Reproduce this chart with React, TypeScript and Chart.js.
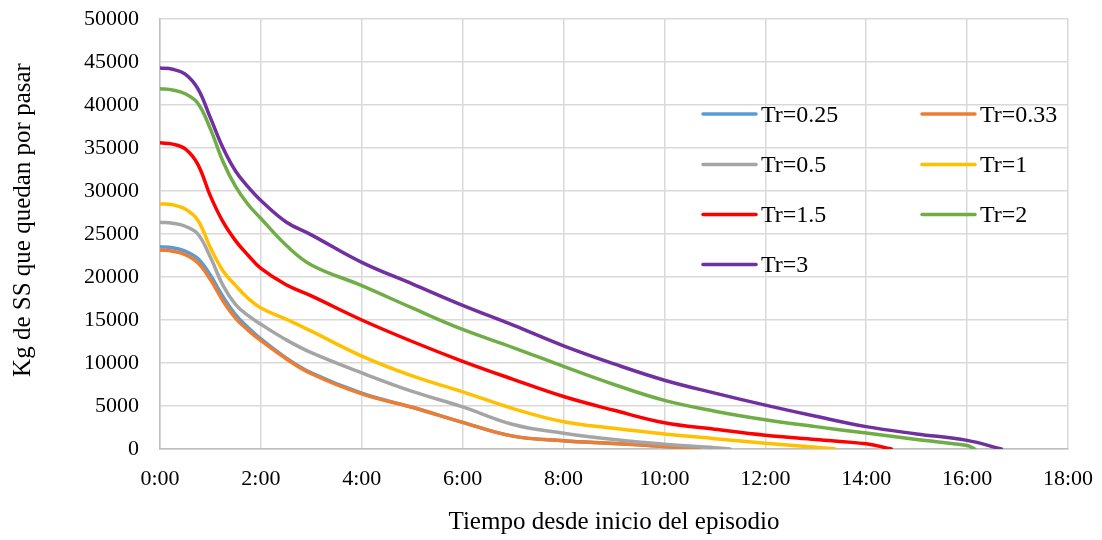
import React, { useEffect, useRef } from "react";
import { Chart, registerables } from "chart.js";

Chart.register(...registerables);

// ---- Data (hours since start of the episode, kg of SS still to pass) ----
const seriesLabels = ["Tr=0.25", "Tr=0.33", "Tr=0.5", "Tr=1", "Tr=1.5", "Tr=2", "Tr=3"];
const seriesColors = ["#5B9BD5", "#ED7D31", "#A5A5A5", "#FFC000", "#FF0000", "#70AD47", "#7030A0"];

const tTr025 = [0, 0.25, 0.5, 0.75, 1.0, 1.25, 1.5, 1.75, 2.0, 2.5, 3.0, 4.0, 5.0, 6.0, 7.0, 8.0, 9.0, 10.0, 10.6];
const kgTr025 = [23520, 23400, 23000, 22150, 20200, 17700, 15600, 14100, 12800, 10600, 8850, 6480, 4850, 3100, 1500, 970, 650, 300, 0];

const tTr033 = [0, 0.25, 0.5, 0.75, 1.0, 1.25, 1.5, 1.75, 2.0, 2.5, 3.0, 4.0, 5.0, 6.0, 7.0, 8.0, 9.0, 10.0, 10.7];
const kgTr033 = [23140, 23000, 22600, 21650, 19700, 17200, 15200, 13800, 12600, 10500, 8750, 6400, 4850, 3100, 1500, 970, 650, 300, 0];

const tTr05 = [0, 0.25, 0.5, 0.75, 1.0, 1.25, 1.5, 1.75, 2.0, 2.5, 3.0, 4.0, 5.0, 6.0, 7.0, 8.0, 9.0, 10.0, 11.0, 11.3];
const kgTr05 = [26360, 26250, 25900, 25000, 22300, 19000, 16800, 15500, 14500, 12700, 11200, 8850, 6700, 4900, 2850, 1830, 1100, 550, 150, 0];

const tTr1 = [0, 0.25, 0.5, 0.75, 1.0, 1.25, 1.5, 1.75, 2.0, 2.5, 3.0, 4.0, 5.0, 6.0, 7.0, 8.0, 9.0, 10.0, 11.0, 12.0, 13.0, 13.38];
const kgTr1 = [28500, 28400, 27900, 26600, 23400, 20700, 19000, 17500, 16400, 15100, 13700, 10800, 8500, 6650, 4700, 3170, 2400, 1750, 1200, 660, 200, 0];

const tTr15 = [0, 0.25, 0.5, 0.75, 1.0, 1.25, 1.5, 1.75, 2.0, 2.5, 3.0, 4.0, 5.0, 6.0, 7.0, 8.0, 9.0, 10.0, 11.0, 12.0, 13.0, 14.0, 14.5];
const kgTr15 = [35600, 35450, 34900, 33100, 29400, 26400, 24200, 22500, 21000, 19100, 17800, 15000, 12500, 10200, 8100, 6100, 4500, 3050, 2300, 1600, 1100, 600, 0];

const tTr2 = [0, 0.25, 0.5, 0.75, 1.0, 1.25, 1.5, 1.75, 2.0, 2.5, 3.0, 4.0, 5.0, 6.0, 7.0, 8.0, 9.0, 10.0, 11.0, 12.0, 13.0, 14.0, 15.0, 16.0, 16.15];
const kgTr2 = [41900, 41750, 41300, 40200, 37200, 33400, 30500, 28400, 26800, 23700, 21400, 19000, 16400, 13900, 11800, 9600, 7500, 5650, 4400, 3400, 2600, 1850, 1100, 400, 0];

const tTr3 = [0, 0.25, 0.5, 0.75, 1.0, 1.25, 1.5, 1.75, 2.0, 2.5, 3.0, 4.0, 5.0, 6.0, 7.0, 8.0, 9.0, 10.0, 11.0, 12.0, 13.0, 14.0, 15.0, 16.0, 16.68];
const kgTr3 = [44300, 44150, 43600, 41900, 38500, 35000, 32300, 30450, 28900, 26400, 24900, 21700, 19200, 16700, 14400, 12000, 9900, 8000, 6500, 5100, 3800, 2600, 1750, 1000, 0];

const seriesTimes = [tTr025, tTr033, tTr05, tTr1, tTr15, tTr2, tTr3];
const seriesValues = [kgTr025, kgTr033, kgTr05, kgTr1, kgTr15, kgTr2, kgTr3];

const xMin = 0;
const xMax = 18;
const xStep = 2;
const yMin = 0;
const yMax = 50000;
const yStep = 5000;

const xTitle = "Tiempo desde inicio del episodio";
const yTitle = "Kg de SS que quedan por pasar";

const FONT_FAMILY = "'Times New Roman', 'Liberation Serif', serif";

const legendPlugin = {
  id: "insideLegend",
  afterDraw(chart: any) {
    const { ctx, chartArea } = chart;
    const colX = [chartArea.left + 543, chartArea.left + 762];
    const rowY = [chartArea.top + 95, chartArea.top + 145.5, chartArea.top + 195.5, chartArea.top + 245.5];
    const lineLen = 53;
    ctx.save();
    ctx.font = `24px ${FONT_FAMILY}`;
    ctx.textBaseline = "middle";
    ctx.textAlign = "left";
    chart.data.datasets.forEach((ds: any, i: number) => {
      const col = i % 2;
      const row = Math.floor(i / 2);
      const x = colX[col];
      const y = rowY[row];
      ctx.strokeStyle = ds.borderColor;
      ctx.lineWidth = 3.5;
      ctx.lineCap = "round";
      ctx.beginPath();
      ctx.moveTo(x, y);
      ctx.lineTo(x + lineLen, y);
      ctx.stroke();
      ctx.fillStyle = "#000";
      ctx.fillText(ds.label, x + lineLen + 5, y + 1.5);
    });
    ctx.restore();
  },
};

const yTitlePlugin = {
  id: "yAxisTitle",
  afterDraw(chart: any) {
    const { ctx } = chart;
    ctx.save();
    ctx.translate(23, 220);
    ctx.rotate(-Math.PI / 2);
    ctx.font = `25px ${FONT_FAMILY}`;
    ctx.fillStyle = "#000";
    ctx.textAlign = "center";
    ctx.textBaseline = "middle";
    ctx.fillText(yTitle, 0, 0);
    ctx.restore();
  },
};

export default function App() {
  const canvasRef = useRef<HTMLCanvasElement | null>(null);

  useEffect(() => {
    if (!canvasRef.current) return;
    const datasets = seriesLabels.map((label, i) => ({
      label,
      data: seriesTimes[i].map((t, j) => ({ x: t, y: seriesValues[i][j] })),
      borderColor: seriesColors[i],
      backgroundColor: seriesColors[i],
      borderWidth: 3.5,
      pointRadius: 0,
      fill: false,
      tension: 0.4,
      order: seriesLabels.length - i,
    }));

    const tickFont = { family: FONT_FAMILY, size: 22 };
    const titleFont = { family: FONT_FAMILY, size: 25 };

    const chart = new Chart(canvasRef.current, {
      type: "line",
      data: { datasets },
      plugins: [legendPlugin, yTitlePlugin],
      options: {
        animation: false,
        responsive: false,
        maintainAspectRatio: false,
        layout: { padding: { left: 0, right: 34, top: 19, bottom: 0 } },
        plugins: {
          legend: { display: false },
          tooltip: { enabled: false },
        },
        elements: { point: { radius: 0 }, line: { borderCapStyle: "round", borderJoinStyle: "round" } },
        scales: {
          x: {
            type: "linear",
            min: xMin,
            max: xMax,
            ticks: {
              stepSize: xStep,
              autoSkip: false,
              maxRotation: 0,
              padding: 17,
              color: "#000",
              font: tickFont,
              callback: (v: any) => `${v}:00`,
            },
            grid: { color: "#d9d9d9", lineWidth: 1.5, drawTicks: false },
            border: { color: "#bfbfbf", width: 1.5 },
            title: {
              display: true,
              text: xTitle,
              color: "#000",
              font: titleFont,
              padding: { top: 0, bottom: 3 },
            },
            afterFit: (s: any) => {
              s.height = 91;
              s.paddingLeft = 0;
              s.paddingRight = 0;
            },
          },
          y: {
            type: "linear",
            min: yMin,
            max: yMax,
            ticks: {
              stepSize: yStep,
              padding: 21,
              color: "#000",
              font: tickFont,
              callback: (v: any) => String(v),
            },
            grid: { color: "#d9d9d9", lineWidth: 1.5, drawTicks: false },
            border: { color: "#bfbfbf", width: 1.5 },
            title: { display: false, text: yTitle },
            afterFit: (s: any) => {
              s.width = 160;
              s.paddingTop = 0;
              s.paddingBottom = 0;
            },
          },
        },
      },
    } as any);

    return () => chart.destroy();
  }, []);

  return (
    <div style={{ position: "absolute", left: 0, top: 0, width: 1102, height: 540, background: "#fff" }}>
      <canvas ref={canvasRef} width={1102} height={540} />
    </div>
  );
}
